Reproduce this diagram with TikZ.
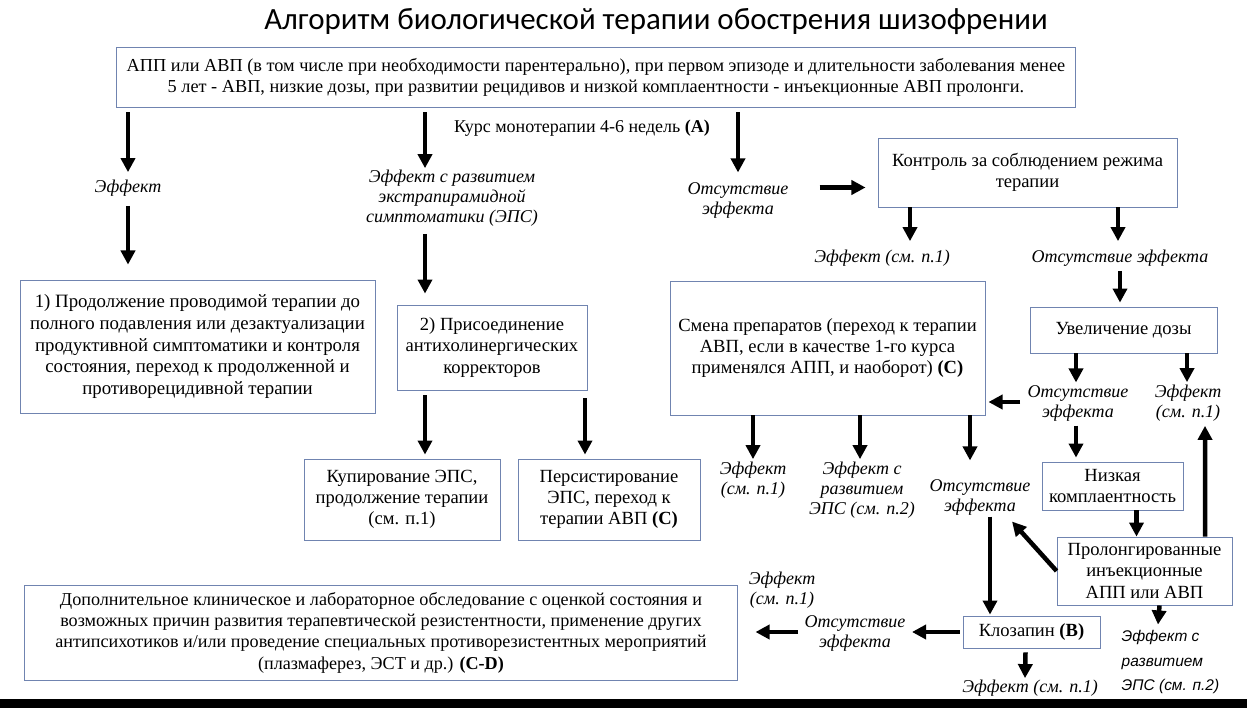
\documentclass[tikz,border=0pt]{standalone}
\usepackage{fontspec}
\setmainfont{Liberation Serif}
\newfontfamily\titlefont{Carlito}
\newfontfamily\labsans{Liberation Sans}
\usetikzlibrary{arrows.meta,positioning,calc}
\definecolor{boxblue}{RGB}{112,132,176}

\begin{document}
\begin{tikzpicture}[x=0.025cm,y=-0.025cm,font=\fontsize{13.2}{15}\selectfont,
 box/.style={draw=boxblue,line width=0.6pt,align=center,inner sep=2pt},
 lab/.style={font=\fontsize{12.8}{14.2}\selectfont\itshape,align=center,inner sep=1pt},
 arr/.style={-{Triangle[length=10pt,width=10pt]},line width=3.2pt}]
\useasboundingbox (0,0) rectangle (1247,708);
% header
\node[font=\titlefont\fontsize{22}{26}\selectfont] (title) at (656,22) {Алгоритм биологической терапии обострения шизофрении};
\node[box,minimum width=23.95cm,minimum height=1.5cm,font=\fontsize{13}{14.9}\selectfont] (top) at (596,77) {АПП или АВП (в том числе при необходимости парентерально), при первом эпизоде и длительности заболевания менее\\5 лет - АВП, низкие дозы, при развитии рецидивов и низкой комплаентности - инъекционные АВП пролонги.};
\node[font=\fontsize{12.8}{15}\selectfont] (course) at (582,128) {Курс монотерапии 4-6 недель \textbf{(A)}};
% first course
\node[lab] (eff1) at (128,188) {Эффект};
\node[lab] (effeps) at (452,198) {Эффект с развитием\\экстрапирамидной\\симптоматики (ЭПС)};
\node[lab] (noeff1) at (738,200) {Отсутствие\\эффекта};
\node[box,minimum width=7.475cm,minimum height=1.725cm] (ctrl) at (1027.5,172.5) {Контроль за соблюдением режима\\терапии};
\node[box,minimum width=8.875cm,minimum height=3.325cm,font=\fontsize{13.4}{15.6}\selectfont] (cont) at (197.5,346.5) {1) Продолжение проводимой терапии до\\полного подавления или дезактуализации\\продуктивной симптоматики и контроля\\состояния, переход к продолженной и\\противорецидивной терапии};
\node[box,minimum width=4.75cm,minimum height=2.125cm] (anti) at (492,347.5) {2) Присоединение\\антихолинергических\\корректоров};
\node[lab] (eff2) at (882,258) {Эффект (см. п.1)};
\node[lab] (noeff2) at (1120,258) {Отсутствие эффекта};
\node[box,minimum width=4.675cm,minimum height=1.15cm] (dose) at (1123.5,330) {Увеличение дозы};
\node[box,minimum width=7.875cm,minimum height=3.35cm] (swap) at (827.5,348) {Смена препаратов (переход к терапии\\АВП, если в качестве 1-го курса\\применялся АПП, и наоборот) \textbf{(C)}};
\node[lab] (noeff3) at (1078,403) {Отсутствие\\эффекта};
\node[lab] (eff3) at (1188,403) {Эффект\\(см. п.1)};
\node[box,minimum width=3.525cm,minimum height=1.2cm] (lowc) at (1112.5,486) {Низкая\\комплаентность};
\node[box,minimum width=4.375cm,minimum height=1.7cm,fill=white] (prol) at (1144.5,571) {Пролонгированные\\инъекционные\\АПП или АВП};
\node[box,minimum width=4.9cm,minimum height=2.025cm] (kup) at (402,499.5) {Купирование ЭПС,\\продолжение терапии\\(см. п.1)};
\node[box,minimum width=4.55cm,minimum height=2.025cm] (pers) at (609,499.5) {Персистирование\\ЭПС, переход к\\терапии АВП \textbf{(C)}};
\node[lab] (eff4) at (753,480) {Эффект\\(см. п.1)};
\node[lab] (effeps2) at (862,490) {Эффект с\\развитием\\ЭПС (см. п.2)};
\node[lab] (noeff4) at (980,497) {Отсутствие\\эффекта};
% clozapine and resistance
\node[box,minimum width=3.425cm,minimum height=0.8cm] (cloz) at (1031.5,632) {Клозапин \textbf{(B)}};
\node[lab] (noeff5) at (855,633) {Отсутствие\\эффекта};
\node[lab] (eff5) at (782,590) {Эффект\\(см. п.1)};
\node[lab] (eff6) at (1030,688) {Эффект (см. п.1)};
\node[lab,font=\labsans\itshape\fontsize{11}{17.5}\selectfont,align=left,anchor=west] (effeps3) at (1120,662) {Эффект с\\развитием\\ЭПС (см. п.2)};
\node[box,minimum width=17.8cm,minimum height=2.375cm,font=\fontsize{12.9}{15.2}\selectfont] (extra) at (381,632.5) {Дополнительное клиническое и лабораторное обследование с оценкой состояния и\\возможных причин развития терапевтической резистентности, применение других\\антипсихотиков и/или проведение специальных противорезистентных мероприятий\\(плазмаферез, ЭСТ и др.) \textbf{(C-D)}};
% arrows
\draw[arr] ($(top.south -| eff1)+(0,5)$) -- ($(eff1.north)+(0,-6)$);
\draw[arr] ($(eff1.south)+(0,8)$) -- ($(cont.north -| eff1)+(0,-15)$);
\draw[arr] ($(top.south -| effeps)+(-27,5)$) -- ($(effeps.north)+(-27,0)$);
\draw[arr] ($(effeps.south)+(-27,6)$) -- ($(anti.north -| effeps)+(-27,-11)$);
\draw[arr] ($(top.south -| noeff1)+(0,5)$) -- ($(noeff1.north)+(0,-8)$);
\draw[arr] ($(ctrl.west)+(-58,15)$) -- ($(ctrl.west)+(-12,15)$);
\draw[arr] ($(ctrl.south -| eff2)+(28,0)$) -- ($(eff2.north)+(28,-7)$);
\draw[arr] ($(ctrl.south -| noeff2)+(-2,0)$) -- ($(noeff2.north)+(-2,-7)$);
\draw[arr] ($(noeff2.south)+(0,3)$) -- ($(dose.north -| noeff2)+(0,-4)$);
\draw[arr] ($(dose.south -| noeff3)+(-2,0)$) -- ($(noeff3.north)+(-2,-1)$);
\draw[arr] ($(dose.south -| eff3)+(-1,0)$) -- ($(eff3.north)+(-1,-1)$);
\draw[arr] ($(noeff3.west)+(-6,-1)$) -- ($(noeff3.west -| swap.east)+(3,-1)$);
\draw[arr] ($(noeff3.south)+(-2,3)$) -- ($(lowc.north -| noeff3)+(-2,-4)$);
\draw[arr] ($(lowc.south)+(24,0)$) -- ($(prol.north)+(-8,0)$);
\draw[arr] ($(prol.north)+(60.5,0)$) -- ($(eff3.south)+(17,3)$);
\draw[arr] (prol.west) -- ($(noeff4.south east)+(-20,5)$);
\draw[arr] ($(prol.south)+(15,0)$) -- ($(effeps3.north west)+(38,-4)$);
\draw[arr] (swap.south -| eff4) -- ($(eff4.north)+(0,-1)$);
\draw[arr] ($(swap.south -| effeps2)+(-2,0)$) -- ($(effeps2.north)+(-2,-1)$);
\draw[arr] ($(swap.south -| noeff4)+(-10,0)$) -- ($(noeff4.north)+(-10,-17)$);
\draw[arr] ($(noeff4.south)+(10,0)$) -- ($(cloz.north -| noeff4)+(10,-1)$);
\draw[arr] ($(cloz.west)+(-3,0)$) -- ($(noeff5.east)+(5,-1)$);
\draw[arr] ($(noeff5.west)+(-5,-1)$) -- ($(extra.east |- noeff5.west)+(18,-1)$);
\draw[arr] ($(cloz.south)+(-6,4)$) -- ($(eff6.north)+(-5,0)$);
\draw[arr] ($(anti.south -| kup)+(23,5)$) -- ($(kup.north)+(23,-4)$);
\draw[arr] ($(anti.south -| pers)+(-24,8)$) -- ($(pers.north)+(-24,-4)$);
% bottom rule
\fill (0,699) rectangle (1247,708);
\end{tikzpicture}
\end{document}
